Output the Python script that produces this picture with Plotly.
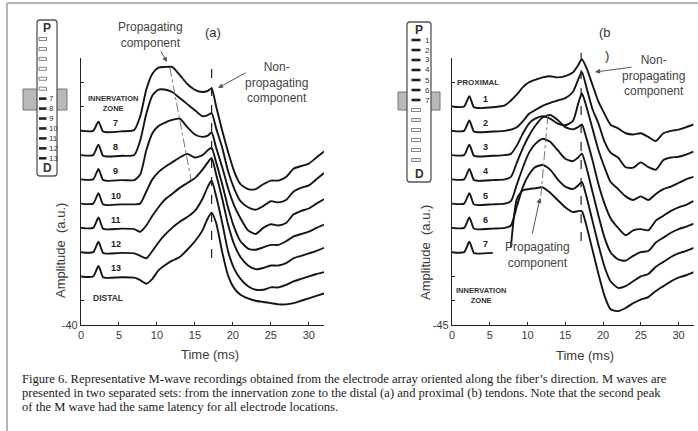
import plotly.graph_objects as go

W, H = 698, 431

# ---------------- data ----------------
TIME = [0, 1.6, 2.3, 2.9, 3.4, 5.4, 7.0, 7.8, 8.6, 9.4, 10.2, 11.0, 12.0, 13.0, 14.0, 15.0,
        16.0, 16.7, 17.2, 17.8, 18.6, 19.4, 20.2, 21.0, 22.0, 23.0, 24.0, 25.0, 26.0, 27.0,
        28.0, 29.0, 30.0, 31.0, 32.0]

# panel (a): innervation zone -> distal (electrodes 7..13)
LABELS_A = ["7", "8", "9", "10", "11", "12", "13"]
OFFSETS_A = [40, 30, 20, 10, 0, -10, -20]
A7 = [0, 0, 3.8, -0.3, -0.6, -0.2, 0.3, 6, 17, 23.5, 26, 26.3, 26.3, 23, 19.3, 16.9, 16, 16.5, 17.5,
      10, 0, -9, -17, -22, -24, -24, -22, -20.5, -20.5, -19, -15.6, -14.5, -13.5, -11, -8.5]
A8 = [0, 0, 4.3, -0.3, -0.6, -0.3, 0, 6, 17, 24.5, 27, 27, 26, 23.5, 21, 18.5, 16, 16.5, 17.3,
      11, 3, -7, -14, -19, -21.5, -22.5, -21, -19, -19.5, -18.5, -15, -13.5, -12.5, -10, -7.4]
A9 = [0, 0, 4.3, -0.3, -0.6, -0.3, -0.3, 2, 12, 19, 22, 23.3, 24.5, 25, 21.5, 18.5, 17.5, 18, 19.3,
      13, 5, -4, -11, -16, -21, -22.5, -20, -18.5, -19, -18, -14.4, -13, -12, -10, -8.2]
A10 = [0, 0, 4.3, -0.3, -0.6, -0.3, -0.3, 0, 5, 10, 13, 15, 17, 19, 20.5, 19, 20, 22, 23,
       17, 8, -2, -10, -15.5, -18.5, -19, -18, -17, -17, -15.5, -13.5, -12.5, -11.5, -10, -8.6]
A11 = [0, 0, 4.3, -0.3, -0.6, -0.3, -0.5, -1.6, 1, 5, 8.5, 11.5, 14, 16.5, 18.5, 20.5, 24, 27, 28.8,
       22, 12, 1, -7, -12, -15.5, -17, -16.5, -15.5, -15.5, -14.5, -12.5, -11.5, -10.5, -9.5, -8.2]
A12 = [0, 0, 4.3, -0.3, -0.6, -0.3, -0.5, -1.5, -2.5, 0.5, 4, 7, 10, 12.5, 14.5, 17, 22, 27, 29.6,
       23, 12, 0, -7, -11, -14, -15.5, -15.5, -14.5, -14.5, -13.5, -12, -11, -10, -9, -8.2]
A13 = [0, 0, 4.3, -0.3, -0.6, -0.3, -0.5, -1.5, -3, -1, 2.5, 4.5, 6.5, 8, 11, 14.5, 19, 24, 26.3,
       22, 10, 0, -5, -7.5, -9, -10, -10.5, -11, -11.5, -11.5, -11, -10, -9, -8, -7]
SERIES_A = [A7, A8, A9, A10, A11, A12, A13]

# panel (b): proximal -> innervation zone (electrodes 1..7)
LABELS_B = ["1", "2", "3", "4", "5", "6", "7"]
OFFSETS_B = [45, 35, 25, 15, 5, -5, -15]
B1 = [0, 0, 4.3, -0.3, -0.6, -0.3, 0.5, 2.5, 5, 8, 10, 11, 12, 12.5, 12, 12.5, 14, 17, 19.5,
      16, 9, 2, -3, -7.5, -9, -11, -11.5, -11, -12.5, -14.2, -11, -10, -9.5, -8.5, -7.4]
B2 = [0, 0, 4.3, -0.3, -0.6, -0.3, 0, 0.5, 1.5, 4, 7, 8.5, 10.3, 11.5, 12.5, 13.5, 16, 21, 24.3,
      18, 9, 3, -4.5, -9, -11, -15, -15.2, -13, -15, -16, -12, -11, -10.7, -9.8, -8.6]
B3 = [0, 0, 4.3, -0.3, -0.6, -0.3, 0, 0.5, 4, 9, 13, 15, 16, 15, 13, 12.3, 14, 21, 25.5,
      20, 11, 2, -5, -11, -14, -17, -18.5, -17, -18.5, -16, -14, -13, -11.5, -10, -9]
B4 = [0, 0, 4.3, -0.3, -0.6, -0.3, 0, 1, 7, 13, 18, 22, 25.5, 26.5, 24.5, 21.5, 20.6, 21.5, 22.6,
      17, 8, -2, -10, -16, -20, -23, -21, -20.5, -21, -17, -15, -13, -11.5, -10.5, -9]
B5 = [0, 0, 4.3, -0.3, -0.6, -0.3, 0, 1, 8, 15, 21, 24.5, 26.7, 25.5, 22, 18.5, 17.5, 19, 20.6,
      15, 5, -5, -14, -20, -23, -23.5, -21.5, -20, -19.5, -16, -14, -12, -10.5, -9.5, -8.2]
B6 = [0, 0, 4.3, -0.3, -0.6, -0.3, 0, 1, 9, 17, 22, 25, 25.9, 24, 20, 17, 16, 17.5, 18.9,
      13, 3, -7, -16, -22, -24.7, -24, -22, -20, -19, -16, -14, -12, -10.5, -9.5, -8.2]
B7 = [0, 0, 4.3, -0.3, -0.6, -0.3, None, 2, 22, 25.5, 26, 26.3, 26.7, 24.5, 21.5, 18.5, 16.5, 16.9, 16.9,
      11, 1, -9, -18, -23.5, -24.3, -23, -21, -19.5, -18.5, -16, -14, -12, -10.5, -9.5, -8.2]
SERIES_B = [B1, B2, B3, B4, B5, B6, B7]

NONPROP_LATENCY_A = 17.2
NONPROP_LATENCY_B = 17.1
PROP_LINE_A_T = [11.7, 14.5]
PROP_LINE_A_Y = [66, 19.7]
PROP_LINE_B_T = [12.7, 11.7]
PROP_LINE_B_Y = [41.4, 5.6]

X_TICKS = [0, 5, 10, 15, 20, 25, 30]
Y_TICKS_A = list(range(-40, 71, 10))
Y_TICKS_B = list(range(-45, 66, 10))

CAPTION = [
    "Figure 6. Representative M-wave recordings obtained from the electrode array oriented along the fiber\u2019s direction. M waves are",
    "presented in two separated sets: from the innervation zone to the distal (a) and proximal (b) tendons. Note that the second peak",
    "of the M wave had the same latency for all electrode locations.",
]


# ---------------- helpers ----------------
def px(x):
    return x / W


def py(y):
    return 1 - y / H


SANS = "Liberation Sans, Arial, sans-serif"
TXT = "#3a3a3a"

fig = go.Figure()

for vals, off in zip(SERIES_A, OFFSETS_A):
    fig.add_trace(go.Scatter(
        x=TIME, y=[None if v is None else v + off for v in vals], mode="lines",
        line=dict(color="#141414", width=1.9, shape="spline", smoothing=0.6),
        connectgaps=False, xaxis="x", yaxis="y", showlegend=False, hoverinfo="skip"))
for vals, off in zip(SERIES_B, OFFSETS_B):
    fig.add_trace(go.Scatter(
        x=TIME, y=[None if v is None else v + off for v in vals], mode="lines",
        line=dict(color="#141414", width=1.9, shape="spline", smoothing=0.6),
        connectgaps=False, xaxis="x2", yaxis="y2", showlegend=False, hoverinfo="skip"))

# propagating (dash-dot) guide lines
fig.add_trace(go.Scatter(x=PROP_LINE_A_T, y=PROP_LINE_A_Y, mode="lines",
                         line=dict(color="#777", width=1, dash="dashdot"),
                         xaxis="x", yaxis="y", showlegend=False, hoverinfo="skip"))
fig.add_trace(go.Scatter(x=PROP_LINE_B_T, y=PROP_LINE_B_Y, mode="lines",
                         line=dict(color="#777", width=1, dash="dashdot"),
                         xaxis="x2", yaxis="y2", showlegend=False, hoverinfo="skip"))

axis_common = dict(showline=True, linecolor="#222", linewidth=1.2, ticks="inside",
                   ticklen=3, tickcolor="#222", showgrid=False, zeroline=False, automargin=False,
                   tickfont=dict(family=SANS, size=11, color=TXT))
y_dom = [py(325), py(58)]
fig.update_layout(
    template="none",
    width=W, height=H, margin=dict(l=0, r=0, t=0, b=0, autoexpand=False),
    paper_bgcolor="white", plot_bgcolor="rgba(0,0,0,0)",
    xaxis=dict(domain=[px(81), px(324)], range=[0, 32], tickvals=X_TICKS, anchor="y", **axis_common),
    yaxis=dict(domain=y_dom, range=[-40, 70], tickvals=Y_TICKS_A,
               ticktext=["-40"] + [""] * (len(Y_TICKS_A) - 1), anchor="x", **axis_common),
    xaxis2=dict(domain=[px(452), px(693.6)], range=[0, 32], tickvals=X_TICKS, anchor="y2", **axis_common),
    yaxis2=dict(domain=y_dom, range=[-45, 65], tickvals=Y_TICKS_B,
                ticktext=["-45"] + [""] * (len(Y_TICKS_B) - 1), anchor="x2", **axis_common),
)

shapes = []
# page border
shapes.append(dict(type="line", xref="paper", yref="paper", x0=px(7), x1=1, y0=py(3), y1=py(3),
                   line=dict(color="#b5b5b5", width=2)))
shapes.append(dict(type="line", xref="paper", yref="paper", x0=px(7), x1=px(7), y0=py(3), y1=0,
                   line=dict(color="#b5b5b5", width=2)))
# non-propagating latency dashed lines
shapes.append(dict(type="line", xref="x", yref="paper", x0=NONPROP_LATENCY_A, x1=NONPROP_LATENCY_A,
                   y0=py(258), y1=py(66), line=dict(color="#222", width=1.2, dash="dash")))
shapes.append(dict(type="line", xref="x2", yref="paper", x0=NONPROP_LATENCY_B, x1=NONPROP_LATENCY_B,
                   y0=py(241), y1=py(53), line=dict(color="#222", width=1.2, dash="dash")))


def rounded_rect(x0, y0, x1, y1, r):
    pts = [
        f"M {px(x0 + r)} {py(y0)}", f"L {px(x1 - r)} {py(y0)}",
        f"Q {px(x1)} {py(y0)} {px(x1)} {py(y0 + r)}", f"L {px(x1)} {py(y1 - r)}",
        f"Q {px(x1)} {py(y1)} {px(x1 - r)} {py(y1)}", f"L {px(x0 + r)} {py(y1)}",
        f"Q {px(x0)} {py(y1)} {px(x0)} {py(y1 - r)}", f"L {px(x0)} {py(y0 + r)}",
        f"Q {px(x0)} {py(y0)} {px(x0 + r)} {py(y0)}", "Z"]
    return " ".join(pts)


annotations = []


def text(x, y, t, size=12, color=TXT, xanchor="center", **kw):
    d = dict(x=px(x), y=py(y), xref="paper", yref="paper", text=t, showarrow=False,
             xanchor=xanchor, yanchor="middle",
             font=dict(family=SANS, size=size, color=color))
    d.update(kw)
    annotations.append(d)


def electrode_bar(bx0, bx1, by0, by1, e_first, e_step, dash_x0, dash_x1, solid, numbers, num_x,
                  gray_y0, gray_y1, gl0, gr1):
    shapes.append(dict(type="rect", xref="paper", yref="paper", x0=px(gl0), x1=px(bx0 + 2),
                       y0=py(gray_y1), y1=py(gray_y0), fillcolor="#b9b9b9",
                       line=dict(color="#777", width=1)))
    shapes.append(dict(type="rect", xref="paper", yref="paper", x0=px(bx1 - 2), x1=px(gr1),
                       y0=py(gray_y1), y1=py(gray_y0), fillcolor="#b9b9b9",
                       line=dict(color="#777", width=1)))
    shapes.append(dict(type="path", xref="paper", yref="paper",
                       path=rounded_rect(bx0, by0, bx1, by1, 3), fillcolor="white",
                       line=dict(color="#555", width=1.3)))
    for i in range(13):
        yc = e_first + i * e_step
        if solid[i]:
            shapes.append(dict(type="rect", xref="paper", yref="paper", x0=px(dash_x0), x1=px(dash_x1),
                               y0=py(yc + 1.3), y1=py(yc - 1.3), fillcolor="#222",
                               line=dict(width=0)))
        else:
            shapes.append(dict(type="rect", xref="paper", yref="paper", x0=px(dash_x0), x1=px(dash_x1),
                               y0=py(yc + 1.5), y1=py(yc - 1.5), fillcolor="white",
                               line=dict(color="#666", width=0.8)))
        if numbers[i]:
            text(num_x, yc, numbers[i], size=8, color="#333", xanchor="left")
    text((bx0 + bx1) / 2, by0 + 8, "<b>P</b>", size=12, color="#333")
    text((bx0 + bx1) / 2, by1 - 8, "<b>D</b>", size=12, color="#333")


ELEC_A = [""] * 6 + ["7", "8", "9", "10", "11", "12", "13"]
ELEC_B = ["1", "2", "3", "4", "5", "6", "7"] + [""] * 6
electrode_bar(37, 57, 20, 176, 39, 9.94, 39, 46.5, [False] * 6 + [True] * 7, ELEC_A, 46.5,
              89, 110, 23, 67)
electrode_bar(407, 431, 22, 182, 40, 10, 411.5, 420.5, [True] * 7 + [False] * 6, ELEC_B, 423,
              92, 110, 398, 440)

# trace labels
for lab, off in zip(LABELS_A, OFFSETS_A):
    annotations.append(dict(x=4.6, y=off + 0.4, xref="x", yref="y", text=f"<b>{lab}</b>",
                            showarrow=False, xanchor="center", yanchor="bottom",
                            font=dict(family=SANS, size=9, color="#222")))
for lab, off in zip(LABELS_B, OFFSETS_B):
    annotations.append(dict(x=4.5, y=off + 0.4, xref="x2", yref="y2", text=f"<b>{lab}</b>",
                            showarrow=False, xanchor="center", yanchor="bottom",
                            font=dict(family=SANS, size=9, color="#222")))

text(113, 103, "<b>INNERVATION</b><br><b>ZONE</b>", size=7.5, color="#333")
text(108, 298, "<b>DISTAL</b>", size=8.5, color="#333")
text(478, 83, "<b>PROXIMAL</b>", size=8, color="#333")
text(481, 295, "<b>INNERVATION</b><br><b>ZONE</b>", size=7.5, color="#333")

text(150, 35, "Propagating<br>component", size=12, color="#444")
text(213, 33, "(a)", size=13, color="#333")
text(276, 83, "Non-<br>propagating<br>component", size=12, color="#444")
text(605, 33, "(b", size=13, color="#333")
text(607, 55, ")", size=13, color="#333")
text(653, 76, "Non-<br>propagating<br>component", size=12, color="#444")
text(537, 255, "Propagating<br>component", size=12, color="#444")

text(60, 250, "Amplitude  (a.u.)", size=13, textangle=-90)
text(425, 253, "Amplitude  (a.u.)", size=13, textangle=-90)
text(210, 354, "Time (ms)", size=13)
text(585, 355, "Time (ms)", size=13)

# arrows
for hx, hy, ax, ay in [(167, 62, -7, -12), (218, 88, 29, -16), (595, 72, 38, -5), (540, 198, -8, 37)]:
    annotations.append(dict(x=px(hx), y=py(hy), xref="paper", yref="paper", text="",
                            showarrow=True, ax=ax, ay=ay, arrowhead=2, arrowsize=1,
                            arrowwidth=1, arrowcolor="#555", standoff=0))

for i, line in enumerate(CAPTION):
    text(20, 379 + 14 * i, line, size=12.6, color="#1a1a1a", xanchor="left")
    annotations[-1]["font"]["family"] = "Liberation Serif, Times New Roman, serif"

fig.update_layout(shapes=shapes, annotations=annotations)
fig.write_html("out.html", config={"displayModeBar": False},
               post_script="document.body.style.margin='0';document.body.style.overflow='hidden';")
